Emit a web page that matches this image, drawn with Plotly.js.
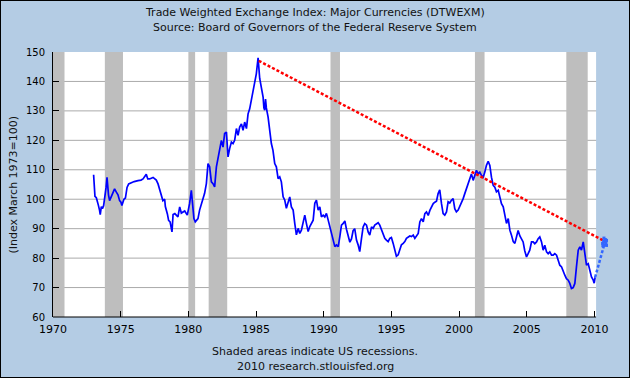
<!DOCTYPE html>
<html>
<head>
<meta charset="utf-8">
<script src="https://cdn.plot.ly/plotly-3.0.1.min.js"></script>
<style>
  html, body { margin: 0; padding: 0; background: #B4CCE4; }
  #wrap { position: relative; width: 630px; height: 378px; }
  #chart { width: 630px; height: 378px; }
  #frame { position: absolute; left: 0; top: 0; width: 630px; height: 378px; box-sizing: border-box; border: 1.5px solid #000; pointer-events: none; }
</style>
</head>
<body>
<div id="wrap"><div id="chart"></div><div id="frame"></div></div>
<script>
// Trade Weighted Exchange Index: Major Currencies
const dates = [
1973.00,1973.04,1973.10,1973.20,1973.27,1973.35,1973.44,1973.49,1973.57,1973.65,1973.74,1973.85,1973.92,1973.99,
1974.05,1974.10,1974.18,1974.30,1974.42,1974.55,1974.68,1974.80,1974.92,1975.02,1975.09,1975.24,1975.35,1975.47,
1975.59,1975.78,1976.00,1976.28,1976.50,1976.65,1976.89,1977.00,1977.14,1977.39,1977.63,1977.76,1977.95,1978.12,
1978.25,1978.30,1978.45,1978.54,1978.65,1978.79,1978.87,1979.00,1979.23,1979.36,1979.48,1979.60,1979.73,1979.92,
1980.09,1980.22,1980.34,1980.41,1980.51,1980.71,1980.83,1980.96,1981.08,1981.20,1981.33,1981.45,1981.57,1981.70,
1981.82,1981.94,1982.07,1982.19,1982.31,1982.44,1982.56,1982.68,1982.81,1982.93,1983.05,1983.18,1983.30,1983.42,
1983.55,1983.67,1983.79,1983.92,1984.04,1984.16,1984.29,1984.41,1984.53,1984.66,1984.78,1984.90,1985.02,1985.15,
1985.27,1985.39,1985.52,1985.58,1985.64,1985.70,1985.76,1985.89,1986.01,1986.13,1986.25,1986.38,1986.50,1986.63,
1986.75,1986.87,1987.00,1987.12,1987.24,1987.37,1987.49,1987.61,1987.74,1987.86,1987.98,1988.11,1988.23,1988.35,
1988.48,1988.60,1988.72,1988.85,1988.97,1989.09,1989.22,1989.34,1989.46,1989.59,1989.71,1989.83,1989.96,1990.08,
1990.20,1990.33,1990.45,1990.57,1990.70,1990.82,1990.94,1991.07,1991.19,1991.31,1991.44,1991.56,1991.68,1991.81,
1991.93,1992.05,1992.17,1992.29,1992.42,1992.54,1992.66,1992.79,1992.91,1993.03,1993.16,1993.28,1993.40,1993.53,
1993.65,1993.77,1993.89,1994.02,1994.14,1994.26,1994.39,1994.51,1994.63,1994.76,1994.88,1995.00,1995.13,1995.25,
1995.37,1995.50,1995.62,1995.74,1995.87,1995.99,1996.11,1996.24,1996.36,1996.48,1996.61,1996.73,1996.85,1996.98,
1997.10,1997.22,1997.35,1997.47,1997.59,1997.72,1997.84,1997.96,1998.09,1998.21,1998.33,1998.45,1998.57,1998.70,
1998.82,1998.94,1999.07,1999.19,1999.31,1999.43,1999.56,1999.68,1999.80,1999.93,2000.05,2000.17,2000.30,2000.42,
2000.54,2000.67,2000.79,2000.91,2001.04,2001.16,2001.28,2001.41,2001.53,2001.65,2001.78,2001.90,2002.02,2002.15,
2002.27,2002.39,2002.52,2002.64,2002.76,2002.89,2003.01,2003.13,2003.26,2003.38,2003.50,2003.63,2003.75,2003.87,
2004.00,2004.12,2004.24,2004.36,2004.49,2004.61,2004.73,2004.85,2004.98,2005.10,2005.22,2005.35,2005.47,2005.59,
2005.72,2005.84,2005.96,2006.09,2006.21,2006.33,2006.46,2006.58,2006.70,2006.83,2006.95,2007.07,2007.20,2007.32,
2007.44,2007.57,2007.69,2007.81,2007.93,2008.06,2008.18,2008.30,2008.43,2008.55,2008.67,2008.80,2008.92,2009.04,
2009.17,2009.29,2009.41,2009.54,2009.66,2009.78,2009.91,2009.98,2010.05
];
const indexValues = [
108.3,101.8,101.0,100.5,99.5,98.0,96.2,94.8,97.5,96.8,97.8,101.0,104.0,107.4,
103.0,101.5,99.5,101.0,102.0,103.5,102.4,101.5,99.5,99.0,97.9,100.0,100.4,104.0,
105.2,105.7,106.0,106.3,106.5,106.9,108.5,106.9,106.9,107.4,106.5,105.2,101.8,99.5,
100.0,97.5,95.0,92.8,92.3,88.9,94.8,95.1,94.0,97.4,95.3,95.8,96.0,94.6,
98.5,103.0,97.4,93.4,92.3,93.4,96.3,98.5,100.2,102.0,105.3,112.1,111.0,105.9,
105.3,104.2,111.0,114.4,116.6,120.0,117.7,122.3,122.8,114.4,117.2,119.4,118.9,120.0,
124.0,121.7,124.5,125.6,123.4,126.2,124.0,129.0,130.7,133.6,136.4,139.2,142.6,148.0,
141.0,138.0,134.7,131.0,130.2,134.0,131.0,127.9,123.4,118.9,116.6,112.1,111.0,107.0,
107.6,105.9,100.8,99.7,96.9,98.6,100.8,97.4,96.3,91.8,87.9,90.1,88.4,89.5,
92.9,94.6,91.8,89.0,90.7,91.8,92.9,98.6,99.7,96.3,97.4,94.0,94.6,94.0,
95.2,92.9,90.7,89.5,86.2,83.9,84.5,83.9,87.3,91.2,91.8,92.6,89.8,87.0,
85.4,86.5,89.3,90.0,86.1,84.5,82.2,86.7,90.6,91.7,91.2,88.9,87.8,90.6,
90.1,91.2,91.7,92.0,91.2,89.5,88.4,86.7,86.1,85.6,86.7,87.0,85.0,82.8,
80.6,81.1,83.3,84.5,85.0,85.6,86.7,87.0,87.5,87.3,87.8,86.7,87.5,88.4,
92.3,93.4,92.3,95.1,95.7,94.5,96.2,97.3,98.5,99.0,99.3,101.9,103.2,98.5,
95.1,94.6,95.7,99.1,98.7,99.6,100.2,96.8,95.7,96.3,97.4,98.5,100.2,101.9,
103.6,105.3,107.5,108.6,106.4,108.6,109.8,108.6,109.2,108.1,107.5,109.2,111.5,112.9,
111.5,107.5,104.7,104.1,102.5,103.0,100.8,98.5,97.4,94.0,91.8,93.4,89.5,87.8,
85.6,85.0,87.2,89.4,87.5,86.5,85.5,82.5,80.4,81.5,82.7,85.5,85.5,84.9,
85.5,86.6,87.2,85.5,82.7,84.4,82.1,81.5,82.1,81.0,81.0,81.5,81.0,79.3,
77.6,77.0,75.3,74.2,73.0,72.5,71.4,69.7,70.0,71.4,77.0,82.7,83.8,82.7,
85.5,80.4,77.6,78.1,75.3,73.6,72.5,71.5,73.5
];
// Dotted red trend from the 1985 peak
const trendX = [1985.2, 2010.65];
const trendY = [147.0, 86.0];
// Dotted blue continuation and its cluster of points
const extX = [2010.05, 2010.85];
const extY = [73.5, 86.7];
const clusterX = [2010.60, 2010.68, 2010.75, 2010.80, 2010.85, 2010.90, 2010.70, 2010.92, 2010.62];
const clusterY = [85.0, 85.8, 84.5, 86.3, 85.2, 84.3, 86.8, 86.0, 84.2];
// US recessions
const recStart = [1969.92, 1973.83, 1980.00, 1981.50, 1990.50, 2001.17, 2007.92];
const recEnd   = [1970.85, 1975.17, 1980.50, 1982.87, 1991.20, 2001.88, 2009.50];
// Axes
const xTicks = [1970, 1975, 1980, 1985, 1990, 1995, 2000, 2005, 2010];
const yTicks = [60, 70, 80, 90, 100, 110, 120, 130, 140, 150];
const gridVals = [70, 80, 90, 100, 110, 120, 130, 140];
const dataEnd = 2010.12;
const xMax = 2011.0;

const FONT = 'DejaVu Sans, Verdana, sans-serif';

const shapes = [];
gridVals.forEach(v => shapes.push({type:'line', xref:'paper', yref:'y', x0:0, x1:1, y0:v, y1:v,
  line:{color:'#AAAAAA', width:1}, layer:'below'}));
recStart.forEach((s, i) => shapes.push({type:'rect', xref:'x', yref:'paper', x0:s, x1:recEnd[i], y0:0, y1:1,
  fillcolor:'#BEBEBE', line:{width:0}, layer:'below'}));
shapes.push({type:'rect', xref:'x', yref:'paper', x0:dataEnd, x1:xMax + 1, y0:-0.01, y1:1.01,
  fillcolor:'#B4CCE4', line:{width:0}, layer:'below'});
shapes.push({type:'line', xref:'x', yref:'paper', x0:1970, x1:dataEnd, y0:0, y1:0,
  line:{color:'#000', width:1}, layer:'above'});

const traces = [
  {x: dates, y: indexValues, type:'scatter', mode:'lines', line:{color:'#0000FF', width:1.7}, hoverinfo:'skip'},
  {x: trendX, y: trendY, type:'scatter', mode:'lines', line:{color:'#FF0000', width:2.5, dash:'3px,2px'}, hoverinfo:'skip'},
  {x: extX, y: extY, type:'scatter', mode:'lines', line:{color:'#3366FF', width:2.5, dash:'3px,2px'}, hoverinfo:'skip'},
  {x: clusterX, y: clusterY, type:'scatter', mode:'markers', marker:{color:'#3366FF', size:3, symbol:'square'}, hoverinfo:'skip'}
];

const annotations = [
  {text:'Trade Weighted Exchange Index: Major Currencies (DTWEXM)', xref:'paper', yref:'paper',
   x:(315-53)/555, y:(317-12)/265, xanchor:'center', yanchor:'middle', showarrow:false, font:{family:FONT, size:11, color:'#111'}},
  {text:'Source: Board of Governors of the Federal Reserve System', xref:'paper', yref:'paper',
   x:(315-53)/555, y:(317-27)/265, xanchor:'center', yanchor:'middle', showarrow:false, font:{family:FONT, size:11, color:'#111'}},
  {text:'Shaded areas indicate US recessions.', xref:'paper', yref:'paper',
   x:(315-53)/555, y:(317-351)/265, xanchor:'center', yanchor:'middle', showarrow:false, font:{family:FONT, size:11, color:'#111'}},
  {text:'2010 research.stlouisfed.org', xref:'paper', yref:'paper',
   x:(315-53)/555, y:(317-366)/265, xanchor:'center', yanchor:'middle', showarrow:false, font:{family:FONT, size:11, color:'#111'}},
  {text:'(Index March 1973=100)', xref:'paper', yref:'paper', textangle:-90,
   x:(13-53)/555, y:0.5, xanchor:'center', yanchor:'middle', showarrow:false, font:{family:FONT, size:11, color:'#111'}}
];

const layout = {
  width:630, height:378, autosize:false,
  margin:{l:53, r:22, t:52, b:61, pad:0},
  paper_bgcolor:'#B4CCE4', plot_bgcolor:'#FFFFFF',
  showlegend:false,
  xaxis:{range:[1970, xMax], tickmode:'array', tickvals:xTicks, ticktext:xTicks.map(String),
    ticks:'inside', ticklen:6, tickwidth:1, tickcolor:'#000', showgrid:false, zeroline:false, showline:false,
    ticklabelstandoff:4,
    tickfont:{family:FONT, size:11, color:'#000'}, fixedrange:true},
  yaxis:{range:[60, 150], tickmode:'array', tickvals:yTicks, ticktext:yTicks.map(String),
    ticks:'inside', ticklen:6, tickwidth:1, tickcolor:'#000', showgrid:false, zeroline:false,
    showline:true, linecolor:'#000', linewidth:1, ticklabelstandoff:5,
    tickfont:{family:FONT, size:10, color:'#000'}, fixedrange:true},
  shapes: shapes,
  annotations: annotations
};

Plotly.newPlot('chart', traces, layout, {staticPlot:true, displayModeBar:false});
</script>
</body>
</html>
